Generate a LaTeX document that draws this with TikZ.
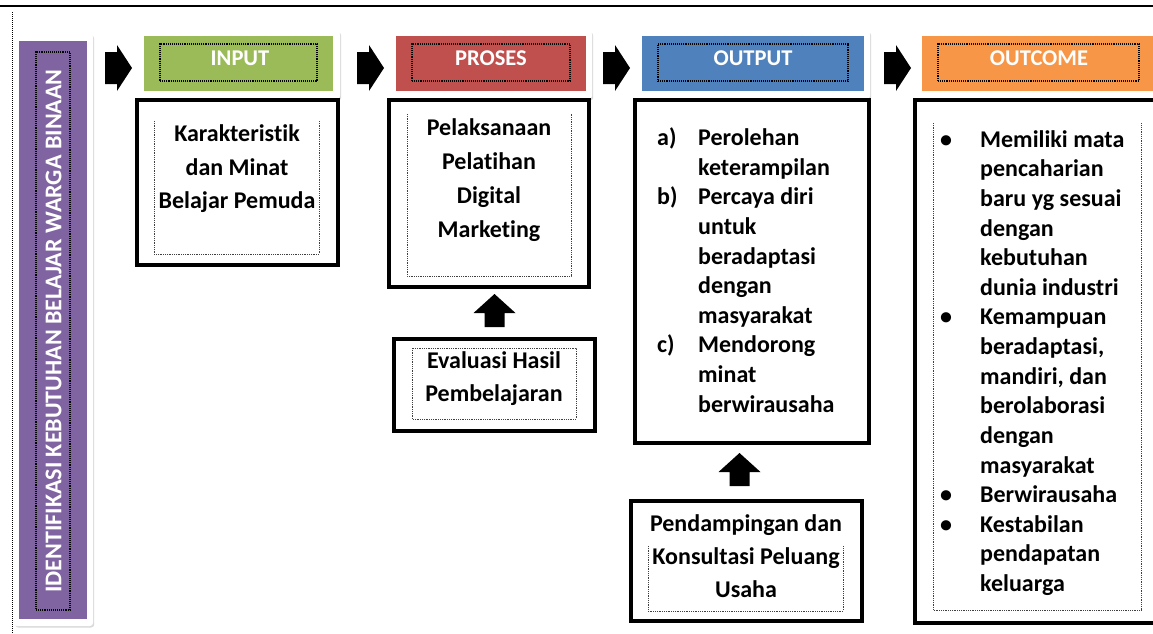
\documentclass[tikz,border=0pt]{standalone}
\usepackage{fontspec}
\setmainfont{Carlito}[Ligatures={NoCommon}]
\usetikzlibrary{shadows,calc}
\definecolor{cgreen}{HTML}{9BBB59}
\definecolor{cred}{HTML}{C0504D}
\definecolor{cblue}{HTML}{4F81BD}
\definecolor{corange}{HTML}{F79646}
\definecolor{cpurple}{HTML}{8064A2}
\tikzset{
  rect/.style={anchor=north west, inner sep=0pt, outer sep=0pt},
  whiteframe/.style={rect, fill=white, rounded corners=3pt,
    drop shadow={opacity=0.3, shadow xshift=1.2pt, shadow yshift=-1.5pt}},
  headfill/.style={rect, draw=none},
  headdots/.style={rect, draw=black, densely dotted, line width=1.1pt},
  mainbox/.style={rect, draw=black, line width=4pt, fill=white},
  innerdots/.style={draw=black!75, densely dotted, line width=0.8pt},
  headtext/.style={text=white, inner sep=0pt, font=\bfseries\fontsize{22.5}{26}\selectfont},
  bodytext/.style={inner sep=0pt, align=center},
  listtext/.style={inner sep=0pt, align=left, anchor=west,
    font=\bfseries\fontsize{24}{29.6}\selectfont},
  blk/.style={fill=black}
}
\newcommand{\rarr}[1]{\fill[blk] (#1) ++(0,-16) -- ++(12,0) -- ++(0,-7) -- ++(15,23) -- ++(-15,23) -- ++(0,-7) -- ++(-12,0) -- cycle;}
\newcommand{\uarr}[1]{\fill[blk] (#1) ++(-10,0) -- ++(0,-14) -- ++(-11,0) -- ++(21,-19) -- ++(21,19) -- ++(-11,0) -- ++(0,14) -- cycle;}
\newcommand{\bfs}[2]{\bfseries\fontsize{#1}{#2}\selectfont}
\begin{document}
\begin{tikzpicture}[x=1pt,y=-1pt]
\useasboundingbox (0,0) rectangle (1153,633);
% top rule and left dotted rule
\draw[line width=2pt] (0,6) -- (1153,6);
\draw[densely dotted, line width=1pt] (12,12) -- (12,633);

% purple side box
\node[whiteframe, minimum width=79pt, minimum height=592pt] (pframe) at (14,34) {};
\node[headfill, fill=cpurple, minimum width=68pt, minimum height=578pt] (pfill) at (19,41) {};
\node[headdots, minimum width=34pt, minimum height=558pt] (pdots) at (36,52) {};
\node[headtext, rotate=90, font=\bfseries\fontsize{24}{28}\selectfont] (ptext) at (53.5,331) {IDENTIFIKASI KEBUTUHAN BELAJAR WARGA BINAAN};

% headers
\node[whiteframe, minimum width=202pt, minimum height=68pt] (inframe) at (138,31) {};
\node[headfill, fill=cgreen, minimum width=189pt, minimum height=55pt] (infill) at (144,36) {};
\node[headdots, minimum width=157pt, minimum height=37pt] (indots) at (160,44) {};
\node[headtext] (inhead) at (240,58.5) {INPUT};

\node[whiteframe, minimum width=202pt, minimum height=68pt] (prframe) at (390,31) {};
\node[headfill, fill=cred, minimum width=190pt, minimum height=55pt] (prfill) at (396,36) {};
\node[headdots, minimum width=158pt, minimum height=37pt] (prdots) at (412,44) {};
\node[headtext] (prhead) at (491,58.5) {PROSES};

\node[whiteframe, minimum width=234pt, minimum height=68pt] (ouframe) at (636,31) {};
\node[headfill, fill=cblue, minimum width=222pt, minimum height=55pt] (oufill) at (642,36) {};
\node[headdots, minimum width=190pt, minimum height=37pt] (oudots) at (658,44) {};
\node[headtext] (ouhead) at (753,58.5) {OUTPUT};

\node[whiteframe, minimum width=250pt, minimum height=68pt] (ocframe) at (916,31) {};
\node[headfill, fill=corange, minimum width=240pt, minimum height=55pt] (ocfill) at (922,36) {};
\node[headdots, minimum width=201pt, minimum height=37pt] (ocdots) at (938,44) {};
\node[headtext] (ochead) at (1039,58.5) {OUTCOME};

% right block arrows
\coordinate (r1) at (105,68);
\coordinate (r2) at (357,68);
\coordinate (r3) at (603,68);
\coordinate (r4) at (884,68);
\rarr{r1}\rarr{r2}\rarr{r3}\rarr{r4}

% main boxes
\node[mainbox, minimum width=201pt, minimum height=165pt] (inbox) at (137,100) {};
\node[mainbox, minimum width=200pt, minimum height=187pt] (prbox) at (389,100) {};
\node[mainbox, minimum width=201pt, minimum height=92pt] (evbox) at (394,339) {};
\node[mainbox, minimum width=234pt, minimum height=343pt] (oubox) at (635,100) {};
\node[mainbox, minimum width=231pt, minimum height=120pt] (pdbox) at (631,501) {};
\node[mainbox, minimum width=260pt, minimum height=523pt] (ocbox) at (915,100) {};

% inner dotted frames
\draw[innerdots] (154,121) -- (154,254) -- (319,254) -- (319,121);
\draw[innerdots] (407,114) -- (407,276) -- (571,276) -- (571,114);
\draw[innerdots] (412,348) rectangle (576,419);
\draw[innerdots] (648,546) -- (648,611) -- (843,611) -- (843,546);
\draw[innerdots] (933,123) -- (933,610) -- (1141,610) -- (1141,123);

% texts
\node[bodytext, font=\bfs{24}{33.5}] (intext) at (237,169) {Karakteristik\\dan Minat\\Belajar Pemuda};
\node[bodytext, font=\bfs{24}{34}] (prtext) at (489,180) {Pelaksanaan\\Pelatihan\\Digital\\Marketing};
\node[bodytext, font=\bfs{24}{33}] (evtext) at (494,379) {Evaluasi Hasil\\Pembelajaran};
\node[bodytext, font=\bfs{24}{33}] (pdtext) at (746,556) {Pendampingan dan\\Konsultasi Peluang\\Usaha};

\node[listtext] (outext) at (657,270) {%
\makebox[41pt][l]{a)}Perolehan\\
\hspace*{41pt}keterampilan\\
\makebox[41pt][l]{b)}Percaya diri\\
\hspace*{41pt}untuk\\
\hspace*{41pt}beradaptasi\\
\hspace*{41pt}dengan\\
\hspace*{41pt}masyarakat\\
\makebox[41pt][l]{c)}Mendorong\\
\hspace*{41pt}minat\\
\hspace*{41pt}berwirausaha};

\node[listtext] (octext) at (940,363) {%
\makebox[40pt][l]{\textbullet}Memiliki mata\\
\hspace*{40pt}pencaharian\\
\hspace*{40pt}baru yg sesuai\\
\hspace*{40pt}dengan\\
\hspace*{40pt}kebutuhan\\
\hspace*{40pt}dunia industri\\
\makebox[40pt][l]{\textbullet}Kemampuan\\
\hspace*{40pt}beradaptasi,\\
\hspace*{40pt}mandiri, dan\\
\hspace*{40pt}berolaborasi\\
\hspace*{40pt}dengan\\
\hspace*{40pt}masyarakat\\
\makebox[40pt][l]{\textbullet}Berwirausaha\\
\makebox[40pt][l]{\textbullet}Kestabilan\\
\hspace*{40pt}pendapatan\\
\hspace*{40pt}keluarga};

% up block arrows
\coordinate (u1) at ($(evbox.north)+(0,-12)$);
\coordinate (u2) at ($(pdbox.north)+(-7,-15)$);
\uarr{u1}\uarr{u2}
\end{tikzpicture}
\end{document}
